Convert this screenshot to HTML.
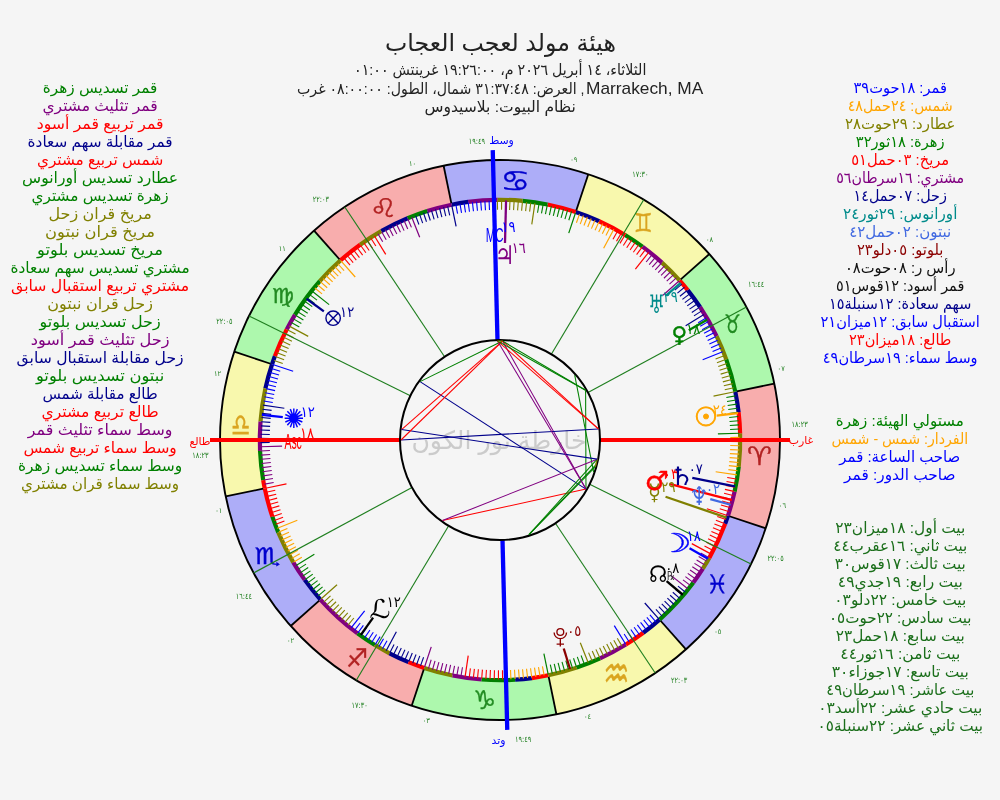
<!DOCTYPE html>
<html lang="ar">
<head>
<meta charset="utf-8">
<title>هيئة مولد</title>
<style>
html,body{margin:0;padding:0;background:#f5f5f5;}
body{width:1000px;height:800px;overflow:hidden;font-family:"Liberation Sans","DejaVu Sans",sans-serif;}
svg{display:block;will-change:transform}
</style>
</head>
<body>
<svg width="1000" height="800" viewBox="0 0 1000 800">
<rect width="1000" height="800" fill="#f5f5f5"/>
<g id="zodiac">
<path d="M765.71 528.3A280 280 0 0 0 774.26 383.62L735.08 391.67A240 240 0 0 1 727.75 515.69Z" fill="#f8adad"/>
<path d="M774.26 383.62A280 280 0 0 0 709.33 254.04L679.43 280.61A240 240 0 0 1 735.08 391.67Z" fill="#adf8ad"/>
<path d="M709.33 254.04A280 280 0 0 0 588.3 174.29L575.69 212.25A240 240 0 0 1 679.43 280.61Z" fill="#f8f8ad"/>
<path d="M588.3 174.29A280 280 0 0 0 443.62 165.74L451.67 204.92A240 240 0 0 1 575.69 212.25Z" fill="#adadf8"/>
<path d="M443.62 165.74A280 280 0 0 0 314.04 230.67L340.61 260.57A240 240 0 0 1 451.67 204.92Z" fill="#f8adad"/>
<path d="M314.04 230.67A280 280 0 0 0 234.29 351.7L272.25 364.31A240 240 0 0 1 340.61 260.57Z" fill="#adf8ad"/>
<path d="M234.29 351.7A280 280 0 0 0 225.74 496.38L264.92 488.33A240 240 0 0 1 272.25 364.31Z" fill="#f8f8ad"/>
<path d="M225.74 496.38A280 280 0 0 0 290.67 625.96L320.57 599.39A240 240 0 0 1 264.92 488.33Z" fill="#adadf8"/>
<path d="M290.67 625.96A280 280 0 0 0 411.7 705.71L424.31 667.75A240 240 0 0 1 320.57 599.39Z" fill="#f8adad"/>
<path d="M411.7 705.71A280 280 0 0 0 556.38 714.26L548.33 675.08A240 240 0 0 1 424.31 667.75Z" fill="#adf8ad"/>
<path d="M556.38 714.26A280 280 0 0 0 685.96 649.33L659.39 619.43A240 240 0 0 1 548.33 675.08Z" fill="#f8f8ad"/>
<path d="M685.96 649.33A280 280 0 0 0 765.71 528.3L727.75 515.69A240 240 0 0 1 659.39 619.43Z" fill="#adadf8"/>
</g>
<g id="terms">
<path d="M727.94 515.75A240.2 240.2 0 0 0 734.61 491.51" stroke="#800080" stroke-width="4.2" fill="none"/>
<path d="M734.61 491.51A240.2 240.2 0 0 0 738.71 466.71" stroke="#008000" stroke-width="4.2" fill="none"/>
<path d="M738.71 466.71A240.2 240.2 0 0 0 740.1 433.22" stroke="#808000" stroke-width="4.2" fill="none"/>
<path d="M740.1 433.22A240.2 240.2 0 0 0 738.6 412.32" stroke="#ff0000" stroke-width="4.2" fill="none"/>
<path d="M738.6 412.32A240.2 240.2 0 0 0 735.28 391.63" stroke="#00008b" stroke-width="4.2" fill="none"/>
<path d="M735.28 391.63A240.2 240.2 0 0 0 726.26 359.36" stroke="#008000" stroke-width="4.2" fill="none"/>
<path d="M726.26 359.36A240.2 240.2 0 0 0 716.59 336.15" stroke="#808000" stroke-width="4.2" fill="none"/>
<path d="M716.59 336.15A240.2 240.2 0 0 0 700.03 307.02" stroke="#800080" stroke-width="4.2" fill="none"/>
<path d="M700.03 307.02A240.2 240.2 0 0 0 687.68 290.09" stroke="#00008b" stroke-width="4.2" fill="none"/>
<path d="M687.68 290.09A240.2 240.2 0 0 0 679.57 280.47" stroke="#ff0000" stroke-width="4.2" fill="none"/>
<path d="M679.57 280.47A240.2 240.2 0 0 0 661.92 262.58" stroke="#808000" stroke-width="4.2" fill="none"/>
<path d="M661.92 262.58A240.2 240.2 0 0 0 642.48 246.62" stroke="#800080" stroke-width="4.2" fill="none"/>
<path d="M642.48 246.62A240.2 240.2 0 0 0 625.09 234.94" stroke="#008000" stroke-width="4.2" fill="none"/>
<path d="M625.09 234.94A240.2 240.2 0 0 0 599.16 221.22" stroke="#ff0000" stroke-width="4.2" fill="none"/>
<path d="M599.16 221.22A240.2 240.2 0 0 0 575.75 212.06" stroke="#00008b" stroke-width="4.2" fill="none"/>
<path d="M575.75 212.06A240.2 240.2 0 0 0 547.41 204.53" stroke="#ff0000" stroke-width="4.2" fill="none"/>
<path d="M547.41 204.53A240.2 240.2 0 0 0 522.54 200.86" stroke="#008000" stroke-width="4.2" fill="none"/>
<path d="M522.54 200.86A240.2 240.2 0 0 0 497.41 199.81" stroke="#808000" stroke-width="4.2" fill="none"/>
<path d="M497.41 199.81A240.2 240.2 0 0 0 468.16 201.92" stroke="#800080" stroke-width="4.2" fill="none"/>
<path d="M468.16 201.92A240.2 240.2 0 0 0 451.63 204.72" stroke="#00008b" stroke-width="4.2" fill="none"/>
<path d="M451.63 204.72A240.2 240.2 0 0 0 427.3 211.06" stroke="#800080" stroke-width="4.2" fill="none"/>
<path d="M427.3 211.06A240.2 240.2 0 0 0 407.63 218.27" stroke="#008000" stroke-width="4.2" fill="none"/>
<path d="M407.63 218.27A240.2 240.2 0 0 0 381.29 231.18" stroke="#00008b" stroke-width="4.2" fill="none"/>
<path d="M381.29 231.18A240.2 240.2 0 0 0 360.12 244.73" stroke="#808000" stroke-width="4.2" fill="none"/>
<path d="M360.12 244.73A240.2 240.2 0 0 0 340.47 260.43" stroke="#ff0000" stroke-width="4.2" fill="none"/>
<path d="M340.47 260.43A240.2 240.2 0 0 0 319.78 281.21" stroke="#808000" stroke-width="4.2" fill="none"/>
<path d="M319.78 281.21A240.2 240.2 0 0 0 294.94 314.91" stroke="#008000" stroke-width="4.2" fill="none"/>
<path d="M294.94 314.91A240.2 240.2 0 0 0 286.71 329.52" stroke="#800080" stroke-width="4.2" fill="none"/>
<path d="M286.71 329.52A240.2 240.2 0 0 0 274.84 356.34" stroke="#ff0000" stroke-width="4.2" fill="none"/>
<path d="M274.84 356.34A240.2 240.2 0 0 0 272.06 364.25" stroke="#00008b" stroke-width="4.2" fill="none"/>
<path d="M272.06 364.25A240.2 240.2 0 0 0 265.39 388.49" stroke="#00008b" stroke-width="4.2" fill="none"/>
<path d="M265.39 388.49A240.2 240.2 0 0 0 260.5 421.64" stroke="#808000" stroke-width="4.2" fill="none"/>
<path d="M260.5 421.64A240.2 240.2 0 0 0 260.05 450.97" stroke="#800080" stroke-width="4.2" fill="none"/>
<path d="M260.05 450.97A240.2 240.2 0 0 0 263.18 480.13" stroke="#008000" stroke-width="4.2" fill="none"/>
<path d="M263.18 480.13A240.2 240.2 0 0 0 264.72 488.37" stroke="#ff0000" stroke-width="4.2" fill="none"/>
<path d="M264.72 488.37A240.2 240.2 0 0 0 272.37 516.68" stroke="#ff0000" stroke-width="4.2" fill="none"/>
<path d="M272.37 516.68A240.2 240.2 0 0 0 278.27 532.37" stroke="#008000" stroke-width="4.2" fill="none"/>
<path d="M278.27 532.37A240.2 240.2 0 0 0 293.29 562.33" stroke="#808000" stroke-width="4.2" fill="none"/>
<path d="M293.29 562.33A240.2 240.2 0 0 0 304.73 579.88" stroke="#800080" stroke-width="4.2" fill="none"/>
<path d="M304.73 579.88A240.2 240.2 0 0 0 320.43 599.53" stroke="#00008b" stroke-width="4.2" fill="none"/>
<path d="M320.43 599.53A240.2 240.2 0 0 0 357.52 633.38" stroke="#800080" stroke-width="4.2" fill="none"/>
<path d="M357.52 633.38A240.2 240.2 0 0 0 374.91 645.06" stroke="#008000" stroke-width="4.2" fill="none"/>
<path d="M374.91 645.06A240.2 240.2 0 0 0 389.52 653.29" stroke="#808000" stroke-width="4.2" fill="none"/>
<path d="M389.52 653.29A240.2 240.2 0 0 0 408.53 662.1" stroke="#00008b" stroke-width="4.2" fill="none"/>
<path d="M408.53 662.1A240.2 240.2 0 0 0 424.25 667.94" stroke="#ff0000" stroke-width="4.2" fill="none"/>
<path d="M424.25 667.94A240.2 240.2 0 0 0 452.59 675.47" stroke="#808000" stroke-width="4.2" fill="none"/>
<path d="M452.59 675.47A240.2 240.2 0 0 0 481.64 679.5" stroke="#800080" stroke-width="4.2" fill="none"/>
<path d="M481.64 679.5A240.2 240.2 0 0 0 515.15 679.72" stroke="#008000" stroke-width="4.2" fill="none"/>
<path d="M515.15 679.72A240.2 240.2 0 0 0 531.84 678.08" stroke="#00008b" stroke-width="4.2" fill="none"/>
<path d="M531.84 678.08A240.2 240.2 0 0 0 548.37 675.28" stroke="#ff0000" stroke-width="4.2" fill="none"/>
<path d="M548.37 675.28A240.2 240.2 0 0 0 576.68 667.63" stroke="#808000" stroke-width="4.2" fill="none"/>
<path d="M576.68 667.63A240.2 240.2 0 0 0 600.05 658.37" stroke="#008000" stroke-width="4.2" fill="none"/>
<path d="M600.05 658.37A240.2 240.2 0 0 0 625.92 644.55" stroke="#800080" stroke-width="4.2" fill="none"/>
<path d="M625.92 644.55A240.2 240.2 0 0 0 643.27 632.8" stroke="#ff0000" stroke-width="4.2" fill="none"/>
<path d="M643.27 632.8A240.2 240.2 0 0 0 659.53 619.57" stroke="#00008b" stroke-width="4.2" fill="none"/>
<path d="M659.53 619.57A240.2 240.2 0 0 0 693.38 582.48" stroke="#008000" stroke-width="4.2" fill="none"/>
<path d="M693.38 582.48A240.2 240.2 0 0 0 702.84 568.65" stroke="#800080" stroke-width="4.2" fill="none"/>
<path d="M702.84 568.65A240.2 240.2 0 0 0 709.3 557.85" stroke="#808000" stroke-width="4.2" fill="none"/>
<path d="M709.3 557.85A240.2 240.2 0 0 0 725.16 523.66" stroke="#ff0000" stroke-width="4.2" fill="none"/>
<path d="M725.16 523.66A240.2 240.2 0 0 0 727.94 515.75" stroke="#00008b" stroke-width="4.2" fill="none"/>
</g>
<g id="ticks" stroke-width="1.1">
<line x1="727.28" y1="515.53" x2="706.87" y2="508.75" stroke="#ff0000" stroke-width="1.2"/>
<line x1="728.56" y1="511.55" x2="719.78" y2="508.81" stroke="#ff0000" stroke-width="1.1"/>
<line x1="729.78" y1="507.55" x2="720.95" y2="504.96" stroke="#ff0000" stroke-width="1.1"/>
<line x1="730.92" y1="503.53" x2="722.05" y2="501.09" stroke="#ff0000" stroke-width="1.1"/>
<line x1="731.99" y1="499.49" x2="723.08" y2="497.21" stroke="#ff0000" stroke-width="1.1"/>
<line x1="733" y1="495.44" x2="724.05" y2="493.31" stroke="#ff0000" stroke-width="1.1"/>
<line x1="733.93" y1="491.36" x2="724.94" y2="489.39" stroke="#ff0000" stroke-width="1.1"/>
<line x1="734.79" y1="487.27" x2="725.77" y2="485.45" stroke="#ff0000" stroke-width="1.1"/>
<line x1="735.58" y1="483.17" x2="726.53" y2="481.51" stroke="#ff0000" stroke-width="1.1"/>
<line x1="736.3" y1="479.05" x2="727.22" y2="477.55" stroke="#ff0000" stroke-width="1.1"/>
<line x1="736.94" y1="474.92" x2="715.67" y2="471.78" stroke="#ffa500" stroke-width="1.2"/>
<line x1="737.51" y1="470.78" x2="728.39" y2="469.6" stroke="#ffa500" stroke-width="1.1"/>
<line x1="738.02" y1="466.63" x2="728.87" y2="465.6" stroke="#ffa500" stroke-width="1.1"/>
<line x1="738.44" y1="462.47" x2="729.28" y2="461.61" stroke="#ffa500" stroke-width="1.1"/>
<line x1="738.8" y1="458.3" x2="729.63" y2="457.6" stroke="#ffa500" stroke-width="1.1"/>
<line x1="739.08" y1="454.13" x2="729.9" y2="453.59" stroke="#ffa500" stroke-width="1.1"/>
<line x1="739.29" y1="449.96" x2="730.1" y2="449.58" stroke="#ffa500" stroke-width="1.1"/>
<line x1="739.43" y1="445.78" x2="730.23" y2="445.56" stroke="#ffa500" stroke-width="1.1"/>
<line x1="739.49" y1="441.6" x2="730.29" y2="441.54" stroke="#ffa500" stroke-width="1.1"/>
<line x1="739.49" y1="437.42" x2="730.29" y2="437.52" stroke="#ffa500" stroke-width="1.1"/>
<line x1="739.4" y1="433.24" x2="717.91" y2="433.85" stroke="#008000" stroke-width="1.2"/>
<line x1="739.25" y1="429.07" x2="730.06" y2="429.49" stroke="#008000" stroke-width="1.1"/>
<line x1="739.02" y1="424.89" x2="729.84" y2="425.47" stroke="#008000" stroke-width="1.1"/>
<line x1="738.72" y1="420.72" x2="729.55" y2="421.46" stroke="#008000" stroke-width="1.1"/>
<line x1="738.35" y1="416.56" x2="729.19" y2="417.46" stroke="#008000" stroke-width="1.1"/>
<line x1="737.9" y1="412.4" x2="728.77" y2="413.46" stroke="#008000" stroke-width="1.1"/>
<line x1="737.39" y1="408.26" x2="728.27" y2="409.47" stroke="#008000" stroke-width="1.1"/>
<line x1="736.8" y1="404.12" x2="727.7" y2="405.5" stroke="#008000" stroke-width="1.1"/>
<line x1="736.13" y1="399.99" x2="727.06" y2="401.53" stroke="#008000" stroke-width="1.1"/>
<line x1="735.4" y1="395.88" x2="726.36" y2="397.57" stroke="#008000" stroke-width="1.1"/>
<line x1="734.59" y1="391.77" x2="713.53" y2="396.1" stroke="#808000" stroke-width="1.2"/>
<line x1="733.72" y1="387.69" x2="724.74" y2="389.7" stroke="#808000" stroke-width="1.1"/>
<line x1="732.77" y1="383.62" x2="723.83" y2="385.78" stroke="#808000" stroke-width="1.1"/>
<line x1="731.75" y1="379.56" x2="722.85" y2="381.88" stroke="#808000" stroke-width="1.1"/>
<line x1="730.66" y1="375.53" x2="721.8" y2="378" stroke="#808000" stroke-width="1.1"/>
<line x1="729.5" y1="371.51" x2="720.68" y2="374.14" stroke="#808000" stroke-width="1.1"/>
<line x1="728.27" y1="367.52" x2="719.5" y2="370.3" stroke="#808000" stroke-width="1.1"/>
<line x1="726.97" y1="363.54" x2="718.25" y2="366.48" stroke="#808000" stroke-width="1.1"/>
<line x1="725.6" y1="359.59" x2="716.93" y2="362.68" stroke="#808000" stroke-width="1.1"/>
<line x1="724.16" y1="355.67" x2="715.55" y2="358.91" stroke="#808000" stroke-width="1.1"/>
<line x1="722.66" y1="351.77" x2="702.67" y2="359.69" stroke="#0000ff" stroke-width="1.2"/>
<line x1="721.08" y1="347.9" x2="712.59" y2="351.43" stroke="#0000ff" stroke-width="1.1"/>
<line x1="719.44" y1="344.05" x2="711.01" y2="347.74" stroke="#0000ff" stroke-width="1.1"/>
<line x1="717.73" y1="340.24" x2="709.37" y2="344.07" stroke="#0000ff" stroke-width="1.1"/>
<line x1="715.96" y1="336.45" x2="707.66" y2="340.43" stroke="#0000ff" stroke-width="1.1"/>
<line x1="714.12" y1="332.7" x2="705.89" y2="336.82" stroke="#0000ff" stroke-width="1.1"/>
<line x1="712.21" y1="328.98" x2="704.06" y2="333.24" stroke="#0000ff" stroke-width="1.1"/>
<line x1="710.24" y1="325.29" x2="702.17" y2="329.7" stroke="#0000ff" stroke-width="1.1"/>
<line x1="708.21" y1="321.64" x2="700.21" y2="326.19" stroke="#0000ff" stroke-width="1.1"/>
<line x1="706.11" y1="318.02" x2="698.19" y2="322.71" stroke="#0000ff" stroke-width="1.1"/>
<line x1="703.95" y1="314.45" x2="685.64" y2="325.72" stroke="#00008b" stroke-width="1.2"/>
<line x1="701.73" y1="310.91" x2="693.98" y2="315.86" stroke="#00008b" stroke-width="1.1"/>
<line x1="699.45" y1="307.4" x2="691.78" y2="312.5" stroke="#00008b" stroke-width="1.1"/>
<line x1="697.1" y1="303.94" x2="689.53" y2="309.17" stroke="#00008b" stroke-width="1.1"/>
<line x1="694.7" y1="300.52" x2="687.22" y2="305.88" stroke="#00008b" stroke-width="1.1"/>
<line x1="692.23" y1="297.15" x2="684.85" y2="302.64" stroke="#00008b" stroke-width="1.1"/>
<line x1="689.71" y1="293.82" x2="682.42" y2="299.43" stroke="#00008b" stroke-width="1.1"/>
<line x1="687.13" y1="290.53" x2="679.94" y2="296.27" stroke="#00008b" stroke-width="1.1"/>
<line x1="684.49" y1="287.28" x2="677.41" y2="293.15" stroke="#00008b" stroke-width="1.1"/>
<line x1="681.8" y1="284.09" x2="674.82" y2="290.08" stroke="#00008b" stroke-width="1.1"/>
<line x1="679.05" y1="280.94" x2="662.98" y2="295.22" stroke="#800080" stroke-width="1.2"/>
<line x1="676.25" y1="277.84" x2="669.48" y2="284.07" stroke="#800080" stroke-width="1.1"/>
<line x1="673.39" y1="274.79" x2="666.73" y2="281.13" stroke="#800080" stroke-width="1.1"/>
<line x1="670.48" y1="271.78" x2="663.93" y2="278.25" stroke="#800080" stroke-width="1.1"/>
<line x1="667.52" y1="268.84" x2="661.08" y2="275.41" stroke="#800080" stroke-width="1.1"/>
<line x1="664.51" y1="265.94" x2="658.19" y2="272.62" stroke="#800080" stroke-width="1.1"/>
<line x1="661.44" y1="263.09" x2="655.24" y2="269.89" stroke="#800080" stroke-width="1.1"/>
<line x1="658.33" y1="260.3" x2="652.25" y2="267.21" stroke="#800080" stroke-width="1.1"/>
<line x1="655.17" y1="257.57" x2="649.21" y2="264.57" stroke="#800080" stroke-width="1.1"/>
<line x1="651.96" y1="254.89" x2="646.13" y2="262" stroke="#800080" stroke-width="1.1"/>
<line x1="648.71" y1="252.26" x2="635.36" y2="269.12" stroke="#ff0000" stroke-width="1.2"/>
<line x1="645.41" y1="249.7" x2="639.83" y2="257.01" stroke="#ff0000" stroke-width="1.1"/>
<line x1="642.07" y1="247.19" x2="636.61" y2="254.59" stroke="#ff0000" stroke-width="1.1"/>
<line x1="638.68" y1="244.74" x2="633.35" y2="252.24" stroke="#ff0000" stroke-width="1.1"/>
<line x1="635.25" y1="242.35" x2="630.06" y2="249.94" stroke="#ff0000" stroke-width="1.1"/>
<line x1="631.78" y1="240.02" x2="626.72" y2="247.7" stroke="#ff0000" stroke-width="1.1"/>
<line x1="628.27" y1="237.75" x2="623.34" y2="245.52" stroke="#ff0000" stroke-width="1.1"/>
<line x1="624.72" y1="235.54" x2="619.93" y2="243.39" stroke="#ff0000" stroke-width="1.1"/>
<line x1="621.13" y1="233.39" x2="616.48" y2="241.33" stroke="#ff0000" stroke-width="1.1"/>
<line x1="617.51" y1="231.31" x2="613" y2="239.33" stroke="#ff0000" stroke-width="1.1"/>
<line x1="613.85" y1="229.29" x2="603.63" y2="248.21" stroke="#ffa500" stroke-width="1.2"/>
<line x1="610.16" y1="227.34" x2="605.92" y2="235.51" stroke="#ffa500" stroke-width="1.1"/>
<line x1="606.43" y1="225.45" x2="602.34" y2="233.69" stroke="#ffa500" stroke-width="1.1"/>
<line x1="602.67" y1="223.62" x2="598.72" y2="231.93" stroke="#ffa500" stroke-width="1.1"/>
<line x1="598.88" y1="221.86" x2="595.08" y2="230.24" stroke="#ffa500" stroke-width="1.1"/>
<line x1="595.05" y1="220.17" x2="591.4" y2="228.61" stroke="#ffa500" stroke-width="1.1"/>
<line x1="591.2" y1="218.54" x2="587.7" y2="227.05" stroke="#ffa500" stroke-width="1.1"/>
<line x1="587.32" y1="216.99" x2="583.97" y2="225.55" stroke="#ffa500" stroke-width="1.1"/>
<line x1="583.42" y1="215.5" x2="580.21" y2="224.12" stroke="#ffa500" stroke-width="1.1"/>
<line x1="579.49" y1="214.08" x2="576.43" y2="222.75" stroke="#ffa500" stroke-width="1.1"/>
<line x1="575.53" y1="212.72" x2="568.75" y2="233.13" stroke="#008000" stroke-width="1.2"/>
<line x1="571.55" y1="211.44" x2="568.81" y2="220.22" stroke="#008000" stroke-width="1.1"/>
<line x1="567.55" y1="210.22" x2="564.96" y2="219.05" stroke="#008000" stroke-width="1.1"/>
<line x1="563.53" y1="209.08" x2="561.09" y2="217.95" stroke="#008000" stroke-width="1.1"/>
<line x1="559.49" y1="208.01" x2="557.21" y2="216.92" stroke="#008000" stroke-width="1.1"/>
<line x1="555.44" y1="207" x2="553.31" y2="215.95" stroke="#008000" stroke-width="1.1"/>
<line x1="551.36" y1="206.07" x2="549.39" y2="215.06" stroke="#008000" stroke-width="1.1"/>
<line x1="547.27" y1="205.21" x2="545.45" y2="214.23" stroke="#008000" stroke-width="1.1"/>
<line x1="543.17" y1="204.42" x2="541.51" y2="213.47" stroke="#008000" stroke-width="1.1"/>
<line x1="539.05" y1="203.7" x2="537.55" y2="212.78" stroke="#008000" stroke-width="1.1"/>
<line x1="534.92" y1="203.06" x2="531.78" y2="224.33" stroke="#808000" stroke-width="1.2"/>
<line x1="530.78" y1="202.49" x2="529.6" y2="211.61" stroke="#808000" stroke-width="1.1"/>
<line x1="526.63" y1="201.98" x2="525.6" y2="211.13" stroke="#808000" stroke-width="1.1"/>
<line x1="522.47" y1="201.56" x2="521.61" y2="210.72" stroke="#808000" stroke-width="1.1"/>
<line x1="518.3" y1="201.2" x2="517.6" y2="210.37" stroke="#808000" stroke-width="1.1"/>
<line x1="514.13" y1="200.92" x2="513.59" y2="210.1" stroke="#808000" stroke-width="1.1"/>
<line x1="509.96" y1="200.71" x2="509.58" y2="209.9" stroke="#808000" stroke-width="1.1"/>
<line x1="505.78" y1="200.57" x2="505.56" y2="209.77" stroke="#808000" stroke-width="1.1"/>
<line x1="501.6" y1="200.51" x2="501.54" y2="209.71" stroke="#808000" stroke-width="1.1"/>
<line x1="497.42" y1="200.51" x2="497.52" y2="209.71" stroke="#808000" stroke-width="1.1"/>
<line x1="493.24" y1="200.6" x2="493.85" y2="222.09" stroke="#0000ff" stroke-width="1.2"/>
<line x1="489.07" y1="200.75" x2="489.49" y2="209.94" stroke="#0000ff" stroke-width="1.1"/>
<line x1="484.89" y1="200.98" x2="485.47" y2="210.16" stroke="#0000ff" stroke-width="1.1"/>
<line x1="480.72" y1="201.28" x2="481.46" y2="210.45" stroke="#0000ff" stroke-width="1.1"/>
<line x1="476.56" y1="201.65" x2="477.46" y2="210.81" stroke="#0000ff" stroke-width="1.1"/>
<line x1="472.4" y1="202.1" x2="473.46" y2="211.23" stroke="#0000ff" stroke-width="1.1"/>
<line x1="468.26" y1="202.61" x2="469.47" y2="211.73" stroke="#0000ff" stroke-width="1.1"/>
<line x1="464.12" y1="203.2" x2="465.5" y2="212.3" stroke="#0000ff" stroke-width="1.1"/>
<line x1="459.99" y1="203.87" x2="461.53" y2="212.94" stroke="#0000ff" stroke-width="1.1"/>
<line x1="455.88" y1="204.6" x2="457.57" y2="213.64" stroke="#0000ff" stroke-width="1.1"/>
<line x1="451.77" y1="205.41" x2="456.1" y2="226.47" stroke="#00008b" stroke-width="1.2"/>
<line x1="447.69" y1="206.28" x2="449.7" y2="215.26" stroke="#00008b" stroke-width="1.1"/>
<line x1="443.62" y1="207.23" x2="445.78" y2="216.17" stroke="#00008b" stroke-width="1.1"/>
<line x1="439.56" y1="208.25" x2="441.88" y2="217.15" stroke="#00008b" stroke-width="1.1"/>
<line x1="435.53" y1="209.34" x2="438" y2="218.2" stroke="#00008b" stroke-width="1.1"/>
<line x1="431.51" y1="210.5" x2="434.14" y2="219.32" stroke="#00008b" stroke-width="1.1"/>
<line x1="427.52" y1="211.73" x2="430.3" y2="220.5" stroke="#00008b" stroke-width="1.1"/>
<line x1="423.54" y1="213.03" x2="426.48" y2="221.75" stroke="#00008b" stroke-width="1.1"/>
<line x1="419.59" y1="214.4" x2="422.68" y2="223.07" stroke="#00008b" stroke-width="1.1"/>
<line x1="415.67" y1="215.84" x2="418.91" y2="224.45" stroke="#00008b" stroke-width="1.1"/>
<line x1="411.77" y1="217.34" x2="419.69" y2="237.33" stroke="#800080" stroke-width="1.2"/>
<line x1="407.9" y1="218.92" x2="411.43" y2="227.41" stroke="#800080" stroke-width="1.1"/>
<line x1="404.05" y1="220.56" x2="407.74" y2="228.99" stroke="#800080" stroke-width="1.1"/>
<line x1="400.24" y1="222.27" x2="404.07" y2="230.63" stroke="#800080" stroke-width="1.1"/>
<line x1="396.45" y1="224.04" x2="400.43" y2="232.34" stroke="#800080" stroke-width="1.1"/>
<line x1="392.7" y1="225.88" x2="396.82" y2="234.11" stroke="#800080" stroke-width="1.1"/>
<line x1="388.98" y1="227.79" x2="393.24" y2="235.94" stroke="#800080" stroke-width="1.1"/>
<line x1="385.29" y1="229.76" x2="389.7" y2="237.83" stroke="#800080" stroke-width="1.1"/>
<line x1="381.64" y1="231.79" x2="386.19" y2="239.79" stroke="#800080" stroke-width="1.1"/>
<line x1="378.02" y1="233.89" x2="382.71" y2="241.81" stroke="#800080" stroke-width="1.1"/>
<line x1="374.45" y1="236.05" x2="385.72" y2="254.36" stroke="#ff0000" stroke-width="1.2"/>
<line x1="370.91" y1="238.27" x2="375.86" y2="246.02" stroke="#ff0000" stroke-width="1.1"/>
<line x1="367.4" y1="240.55" x2="372.5" y2="248.22" stroke="#ff0000" stroke-width="1.1"/>
<line x1="363.94" y1="242.9" x2="369.17" y2="250.47" stroke="#ff0000" stroke-width="1.1"/>
<line x1="360.52" y1="245.3" x2="365.88" y2="252.78" stroke="#ff0000" stroke-width="1.1"/>
<line x1="357.15" y1="247.77" x2="362.64" y2="255.15" stroke="#ff0000" stroke-width="1.1"/>
<line x1="353.82" y1="250.29" x2="359.43" y2="257.58" stroke="#ff0000" stroke-width="1.1"/>
<line x1="350.53" y1="252.87" x2="356.27" y2="260.06" stroke="#ff0000" stroke-width="1.1"/>
<line x1="347.28" y1="255.51" x2="353.15" y2="262.59" stroke="#ff0000" stroke-width="1.1"/>
<line x1="344.09" y1="258.2" x2="350.08" y2="265.18" stroke="#ff0000" stroke-width="1.1"/>
<line x1="340.94" y1="260.95" x2="355.22" y2="277.02" stroke="#ffa500" stroke-width="1.2"/>
<line x1="337.84" y1="263.75" x2="344.07" y2="270.52" stroke="#ffa500" stroke-width="1.1"/>
<line x1="334.79" y1="266.61" x2="341.13" y2="273.27" stroke="#ffa500" stroke-width="1.1"/>
<line x1="331.78" y1="269.52" x2="338.25" y2="276.07" stroke="#ffa500" stroke-width="1.1"/>
<line x1="328.84" y1="272.48" x2="335.41" y2="278.92" stroke="#ffa500" stroke-width="1.1"/>
<line x1="325.94" y1="275.49" x2="332.62" y2="281.81" stroke="#ffa500" stroke-width="1.1"/>
<line x1="323.09" y1="278.56" x2="329.89" y2="284.76" stroke="#ffa500" stroke-width="1.1"/>
<line x1="320.3" y1="281.67" x2="327.21" y2="287.75" stroke="#ffa500" stroke-width="1.1"/>
<line x1="317.57" y1="284.83" x2="324.57" y2="290.79" stroke="#ffa500" stroke-width="1.1"/>
<line x1="314.89" y1="288.04" x2="322" y2="293.87" stroke="#ffa500" stroke-width="1.1"/>
<line x1="312.26" y1="291.29" x2="329.12" y2="304.64" stroke="#008000" stroke-width="1.2"/>
<line x1="309.7" y1="294.59" x2="317.01" y2="300.17" stroke="#008000" stroke-width="1.1"/>
<line x1="307.19" y1="297.93" x2="314.59" y2="303.39" stroke="#008000" stroke-width="1.1"/>
<line x1="304.74" y1="301.32" x2="312.24" y2="306.65" stroke="#008000" stroke-width="1.1"/>
<line x1="302.35" y1="304.75" x2="309.94" y2="309.94" stroke="#008000" stroke-width="1.1"/>
<line x1="300.02" y1="308.22" x2="307.7" y2="313.28" stroke="#008000" stroke-width="1.1"/>
<line x1="297.75" y1="311.73" x2="305.52" y2="316.66" stroke="#008000" stroke-width="1.1"/>
<line x1="295.54" y1="315.28" x2="303.39" y2="320.07" stroke="#008000" stroke-width="1.1"/>
<line x1="293.39" y1="318.87" x2="301.33" y2="323.52" stroke="#008000" stroke-width="1.1"/>
<line x1="291.31" y1="322.49" x2="299.33" y2="327" stroke="#008000" stroke-width="1.1"/>
<line x1="289.29" y1="326.15" x2="308.21" y2="336.37" stroke="#808000" stroke-width="1.2"/>
<line x1="287.34" y1="329.84" x2="295.51" y2="334.08" stroke="#808000" stroke-width="1.1"/>
<line x1="285.45" y1="333.57" x2="293.69" y2="337.66" stroke="#808000" stroke-width="1.1"/>
<line x1="283.62" y1="337.33" x2="291.93" y2="341.28" stroke="#808000" stroke-width="1.1"/>
<line x1="281.86" y1="341.12" x2="290.24" y2="344.92" stroke="#808000" stroke-width="1.1"/>
<line x1="280.17" y1="344.95" x2="288.61" y2="348.6" stroke="#808000" stroke-width="1.1"/>
<line x1="278.54" y1="348.8" x2="287.05" y2="352.3" stroke="#808000" stroke-width="1.1"/>
<line x1="276.99" y1="352.68" x2="285.55" y2="356.03" stroke="#808000" stroke-width="1.1"/>
<line x1="275.5" y1="356.58" x2="284.12" y2="359.79" stroke="#808000" stroke-width="1.1"/>
<line x1="274.08" y1="360.51" x2="282.75" y2="363.57" stroke="#808000" stroke-width="1.1"/>
<line x1="272.72" y1="364.47" x2="293.13" y2="371.25" stroke="#0000ff" stroke-width="1.2"/>
<line x1="271.44" y1="368.45" x2="280.22" y2="371.19" stroke="#0000ff" stroke-width="1.1"/>
<line x1="270.22" y1="372.45" x2="279.05" y2="375.04" stroke="#0000ff" stroke-width="1.1"/>
<line x1="269.08" y1="376.47" x2="277.95" y2="378.91" stroke="#0000ff" stroke-width="1.1"/>
<line x1="268.01" y1="380.51" x2="276.92" y2="382.79" stroke="#0000ff" stroke-width="1.1"/>
<line x1="267" y1="384.56" x2="275.95" y2="386.69" stroke="#0000ff" stroke-width="1.1"/>
<line x1="266.07" y1="388.64" x2="275.06" y2="390.61" stroke="#0000ff" stroke-width="1.1"/>
<line x1="265.21" y1="392.73" x2="274.23" y2="394.55" stroke="#0000ff" stroke-width="1.1"/>
<line x1="264.42" y1="396.83" x2="273.47" y2="398.49" stroke="#0000ff" stroke-width="1.1"/>
<line x1="263.7" y1="400.95" x2="272.78" y2="402.45" stroke="#0000ff" stroke-width="1.1"/>
<line x1="263.06" y1="405.08" x2="284.33" y2="408.22" stroke="#00008b" stroke-width="1.2"/>
<line x1="262.49" y1="409.22" x2="271.61" y2="410.4" stroke="#00008b" stroke-width="1.1"/>
<line x1="261.98" y1="413.37" x2="271.13" y2="414.4" stroke="#00008b" stroke-width="1.1"/>
<line x1="261.56" y1="417.53" x2="270.72" y2="418.39" stroke="#00008b" stroke-width="1.1"/>
<line x1="261.2" y1="421.7" x2="270.37" y2="422.4" stroke="#00008b" stroke-width="1.1"/>
<line x1="260.92" y1="425.87" x2="270.1" y2="426.41" stroke="#00008b" stroke-width="1.1"/>
<line x1="260.71" y1="430.04" x2="269.9" y2="430.42" stroke="#00008b" stroke-width="1.1"/>
<line x1="260.57" y1="434.22" x2="269.77" y2="434.44" stroke="#00008b" stroke-width="1.1"/>
<line x1="260.51" y1="438.4" x2="269.71" y2="438.46" stroke="#00008b" stroke-width="1.1"/>
<line x1="260.51" y1="442.58" x2="269.71" y2="442.48" stroke="#00008b" stroke-width="1.1"/>
<line x1="260.6" y1="446.76" x2="282.09" y2="446.15" stroke="#800080" stroke-width="1.2"/>
<line x1="260.75" y1="450.93" x2="269.94" y2="450.51" stroke="#800080" stroke-width="1.1"/>
<line x1="260.98" y1="455.11" x2="270.16" y2="454.53" stroke="#800080" stroke-width="1.1"/>
<line x1="261.28" y1="459.28" x2="270.45" y2="458.54" stroke="#800080" stroke-width="1.1"/>
<line x1="261.65" y1="463.44" x2="270.81" y2="462.54" stroke="#800080" stroke-width="1.1"/>
<line x1="262.1" y1="467.6" x2="271.23" y2="466.54" stroke="#800080" stroke-width="1.1"/>
<line x1="262.61" y1="471.74" x2="271.73" y2="470.53" stroke="#800080" stroke-width="1.1"/>
<line x1="263.2" y1="475.88" x2="272.3" y2="474.5" stroke="#800080" stroke-width="1.1"/>
<line x1="263.87" y1="480.01" x2="272.94" y2="478.47" stroke="#800080" stroke-width="1.1"/>
<line x1="264.6" y1="484.12" x2="273.64" y2="482.43" stroke="#800080" stroke-width="1.1"/>
<line x1="265.41" y1="488.23" x2="286.47" y2="483.9" stroke="#ff0000" stroke-width="1.2"/>
<line x1="266.28" y1="492.31" x2="275.26" y2="490.3" stroke="#ff0000" stroke-width="1.1"/>
<line x1="267.23" y1="496.38" x2="276.17" y2="494.22" stroke="#ff0000" stroke-width="1.1"/>
<line x1="268.25" y1="500.44" x2="277.15" y2="498.12" stroke="#ff0000" stroke-width="1.1"/>
<line x1="269.34" y1="504.47" x2="278.2" y2="502" stroke="#ff0000" stroke-width="1.1"/>
<line x1="270.5" y1="508.49" x2="279.32" y2="505.86" stroke="#ff0000" stroke-width="1.1"/>
<line x1="271.73" y1="512.48" x2="280.5" y2="509.7" stroke="#ff0000" stroke-width="1.1"/>
<line x1="273.03" y1="516.46" x2="281.75" y2="513.52" stroke="#ff0000" stroke-width="1.1"/>
<line x1="274.4" y1="520.41" x2="283.07" y2="517.32" stroke="#ff0000" stroke-width="1.1"/>
<line x1="275.84" y1="524.33" x2="284.45" y2="521.09" stroke="#ff0000" stroke-width="1.1"/>
<line x1="277.34" y1="528.23" x2="297.33" y2="520.31" stroke="#ffa500" stroke-width="1.2"/>
<line x1="278.92" y1="532.1" x2="287.41" y2="528.57" stroke="#ffa500" stroke-width="1.1"/>
<line x1="280.56" y1="535.95" x2="288.99" y2="532.26" stroke="#ffa500" stroke-width="1.1"/>
<line x1="282.27" y1="539.76" x2="290.63" y2="535.93" stroke="#ffa500" stroke-width="1.1"/>
<line x1="284.04" y1="543.55" x2="292.34" y2="539.57" stroke="#ffa500" stroke-width="1.1"/>
<line x1="285.88" y1="547.3" x2="294.11" y2="543.18" stroke="#ffa500" stroke-width="1.1"/>
<line x1="287.79" y1="551.02" x2="295.94" y2="546.76" stroke="#ffa500" stroke-width="1.1"/>
<line x1="289.76" y1="554.71" x2="297.83" y2="550.3" stroke="#ffa500" stroke-width="1.1"/>
<line x1="291.79" y1="558.36" x2="299.79" y2="553.81" stroke="#ffa500" stroke-width="1.1"/>
<line x1="293.89" y1="561.98" x2="301.81" y2="557.29" stroke="#ffa500" stroke-width="1.1"/>
<line x1="296.05" y1="565.55" x2="314.36" y2="554.28" stroke="#008000" stroke-width="1.2"/>
<line x1="298.27" y1="569.09" x2="306.02" y2="564.14" stroke="#008000" stroke-width="1.1"/>
<line x1="300.55" y1="572.6" x2="308.22" y2="567.5" stroke="#008000" stroke-width="1.1"/>
<line x1="302.9" y1="576.06" x2="310.47" y2="570.83" stroke="#008000" stroke-width="1.1"/>
<line x1="305.3" y1="579.48" x2="312.78" y2="574.12" stroke="#008000" stroke-width="1.1"/>
<line x1="307.77" y1="582.85" x2="315.15" y2="577.36" stroke="#008000" stroke-width="1.1"/>
<line x1="310.29" y1="586.18" x2="317.58" y2="580.57" stroke="#008000" stroke-width="1.1"/>
<line x1="312.87" y1="589.47" x2="320.06" y2="583.73" stroke="#008000" stroke-width="1.1"/>
<line x1="315.51" y1="592.72" x2="322.59" y2="586.85" stroke="#008000" stroke-width="1.1"/>
<line x1="318.2" y1="595.91" x2="325.18" y2="589.92" stroke="#008000" stroke-width="1.1"/>
<line x1="320.95" y1="599.06" x2="337.02" y2="584.78" stroke="#808000" stroke-width="1.2"/>
<line x1="323.75" y1="602.16" x2="330.52" y2="595.93" stroke="#808000" stroke-width="1.1"/>
<line x1="326.61" y1="605.21" x2="333.27" y2="598.87" stroke="#808000" stroke-width="1.1"/>
<line x1="329.52" y1="608.22" x2="336.07" y2="601.75" stroke="#808000" stroke-width="1.1"/>
<line x1="332.48" y1="611.16" x2="338.92" y2="604.59" stroke="#808000" stroke-width="1.1"/>
<line x1="335.49" y1="614.06" x2="341.81" y2="607.38" stroke="#808000" stroke-width="1.1"/>
<line x1="338.56" y1="616.91" x2="344.76" y2="610.11" stroke="#808000" stroke-width="1.1"/>
<line x1="341.67" y1="619.7" x2="347.75" y2="612.79" stroke="#808000" stroke-width="1.1"/>
<line x1="344.83" y1="622.43" x2="350.79" y2="615.43" stroke="#808000" stroke-width="1.1"/>
<line x1="348.04" y1="625.11" x2="353.87" y2="618" stroke="#808000" stroke-width="1.1"/>
<line x1="351.29" y1="627.74" x2="364.64" y2="610.88" stroke="#0000ff" stroke-width="1.2"/>
<line x1="354.59" y1="630.3" x2="360.17" y2="622.99" stroke="#0000ff" stroke-width="1.1"/>
<line x1="357.93" y1="632.81" x2="363.39" y2="625.41" stroke="#0000ff" stroke-width="1.1"/>
<line x1="361.32" y1="635.26" x2="366.65" y2="627.76" stroke="#0000ff" stroke-width="1.1"/>
<line x1="364.75" y1="637.65" x2="369.94" y2="630.06" stroke="#0000ff" stroke-width="1.1"/>
<line x1="368.22" y1="639.98" x2="373.28" y2="632.3" stroke="#0000ff" stroke-width="1.1"/>
<line x1="371.73" y1="642.25" x2="376.66" y2="634.48" stroke="#0000ff" stroke-width="1.1"/>
<line x1="375.28" y1="644.46" x2="380.07" y2="636.61" stroke="#0000ff" stroke-width="1.1"/>
<line x1="378.87" y1="646.61" x2="383.52" y2="638.67" stroke="#0000ff" stroke-width="1.1"/>
<line x1="382.49" y1="648.69" x2="387" y2="640.67" stroke="#0000ff" stroke-width="1.1"/>
<line x1="386.15" y1="650.71" x2="396.37" y2="631.79" stroke="#00008b" stroke-width="1.2"/>
<line x1="389.84" y1="652.66" x2="394.08" y2="644.49" stroke="#00008b" stroke-width="1.1"/>
<line x1="393.57" y1="654.55" x2="397.66" y2="646.31" stroke="#00008b" stroke-width="1.1"/>
<line x1="397.33" y1="656.38" x2="401.28" y2="648.07" stroke="#00008b" stroke-width="1.1"/>
<line x1="401.12" y1="658.14" x2="404.92" y2="649.76" stroke="#00008b" stroke-width="1.1"/>
<line x1="404.95" y1="659.83" x2="408.6" y2="651.39" stroke="#00008b" stroke-width="1.1"/>
<line x1="408.8" y1="661.46" x2="412.3" y2="652.95" stroke="#00008b" stroke-width="1.1"/>
<line x1="412.68" y1="663.01" x2="416.03" y2="654.45" stroke="#00008b" stroke-width="1.1"/>
<line x1="416.58" y1="664.5" x2="419.79" y2="655.88" stroke="#00008b" stroke-width="1.1"/>
<line x1="420.51" y1="665.92" x2="423.57" y2="657.25" stroke="#00008b" stroke-width="1.1"/>
<line x1="424.47" y1="667.28" x2="431.25" y2="646.87" stroke="#800080" stroke-width="1.2"/>
<line x1="428.45" y1="668.56" x2="431.19" y2="659.78" stroke="#800080" stroke-width="1.1"/>
<line x1="432.45" y1="669.78" x2="435.04" y2="660.95" stroke="#800080" stroke-width="1.1"/>
<line x1="436.47" y1="670.92" x2="438.91" y2="662.05" stroke="#800080" stroke-width="1.1"/>
<line x1="440.51" y1="671.99" x2="442.79" y2="663.08" stroke="#800080" stroke-width="1.1"/>
<line x1="444.56" y1="673" x2="446.69" y2="664.05" stroke="#800080" stroke-width="1.1"/>
<line x1="448.64" y1="673.93" x2="450.61" y2="664.94" stroke="#800080" stroke-width="1.1"/>
<line x1="452.73" y1="674.79" x2="454.55" y2="665.77" stroke="#800080" stroke-width="1.1"/>
<line x1="456.83" y1="675.58" x2="458.49" y2="666.53" stroke="#800080" stroke-width="1.1"/>
<line x1="460.95" y1="676.3" x2="462.45" y2="667.22" stroke="#800080" stroke-width="1.1"/>
<line x1="465.08" y1="676.94" x2="468.22" y2="655.67" stroke="#ff0000" stroke-width="1.2"/>
<line x1="469.22" y1="677.51" x2="470.4" y2="668.39" stroke="#ff0000" stroke-width="1.1"/>
<line x1="473.37" y1="678.02" x2="474.4" y2="668.87" stroke="#ff0000" stroke-width="1.1"/>
<line x1="477.53" y1="678.44" x2="478.39" y2="669.28" stroke="#ff0000" stroke-width="1.1"/>
<line x1="481.7" y1="678.8" x2="482.4" y2="669.63" stroke="#ff0000" stroke-width="1.1"/>
<line x1="485.87" y1="679.08" x2="486.41" y2="669.9" stroke="#ff0000" stroke-width="1.1"/>
<line x1="490.04" y1="679.29" x2="490.42" y2="670.1" stroke="#ff0000" stroke-width="1.1"/>
<line x1="494.22" y1="679.43" x2="494.44" y2="670.23" stroke="#ff0000" stroke-width="1.1"/>
<line x1="498.4" y1="679.49" x2="498.46" y2="670.29" stroke="#ff0000" stroke-width="1.1"/>
<line x1="502.58" y1="679.49" x2="502.48" y2="670.29" stroke="#ff0000" stroke-width="1.1"/>
<line x1="506.76" y1="679.4" x2="506.15" y2="657.91" stroke="#ffa500" stroke-width="1.2"/>
<line x1="510.93" y1="679.25" x2="510.51" y2="670.06" stroke="#ffa500" stroke-width="1.1"/>
<line x1="515.11" y1="679.02" x2="514.53" y2="669.84" stroke="#ffa500" stroke-width="1.1"/>
<line x1="519.28" y1="678.72" x2="518.54" y2="669.55" stroke="#ffa500" stroke-width="1.1"/>
<line x1="523.44" y1="678.35" x2="522.54" y2="669.19" stroke="#ffa500" stroke-width="1.1"/>
<line x1="527.6" y1="677.9" x2="526.54" y2="668.77" stroke="#ffa500" stroke-width="1.1"/>
<line x1="531.74" y1="677.39" x2="530.53" y2="668.27" stroke="#ffa500" stroke-width="1.1"/>
<line x1="535.88" y1="676.8" x2="534.5" y2="667.7" stroke="#ffa500" stroke-width="1.1"/>
<line x1="540.01" y1="676.13" x2="538.47" y2="667.06" stroke="#ffa500" stroke-width="1.1"/>
<line x1="544.12" y1="675.4" x2="542.43" y2="666.36" stroke="#ffa500" stroke-width="1.1"/>
<line x1="548.23" y1="674.59" x2="543.9" y2="653.53" stroke="#008000" stroke-width="1.2"/>
<line x1="552.31" y1="673.72" x2="550.3" y2="664.74" stroke="#008000" stroke-width="1.1"/>
<line x1="556.38" y1="672.77" x2="554.22" y2="663.83" stroke="#008000" stroke-width="1.1"/>
<line x1="560.44" y1="671.75" x2="558.12" y2="662.85" stroke="#008000" stroke-width="1.1"/>
<line x1="564.47" y1="670.66" x2="562" y2="661.8" stroke="#008000" stroke-width="1.1"/>
<line x1="568.49" y1="669.5" x2="565.86" y2="660.68" stroke="#008000" stroke-width="1.1"/>
<line x1="572.48" y1="668.27" x2="569.7" y2="659.5" stroke="#008000" stroke-width="1.1"/>
<line x1="576.46" y1="666.97" x2="573.52" y2="658.25" stroke="#008000" stroke-width="1.1"/>
<line x1="580.41" y1="665.6" x2="577.32" y2="656.93" stroke="#008000" stroke-width="1.1"/>
<line x1="584.33" y1="664.16" x2="581.09" y2="655.55" stroke="#008000" stroke-width="1.1"/>
<line x1="588.23" y1="662.66" x2="580.31" y2="642.67" stroke="#808000" stroke-width="1.2"/>
<line x1="592.1" y1="661.08" x2="588.57" y2="652.59" stroke="#808000" stroke-width="1.1"/>
<line x1="595.95" y1="659.44" x2="592.26" y2="651.01" stroke="#808000" stroke-width="1.1"/>
<line x1="599.76" y1="657.73" x2="595.93" y2="649.37" stroke="#808000" stroke-width="1.1"/>
<line x1="603.55" y1="655.96" x2="599.57" y2="647.66" stroke="#808000" stroke-width="1.1"/>
<line x1="607.3" y1="654.12" x2="603.18" y2="645.89" stroke="#808000" stroke-width="1.1"/>
<line x1="611.02" y1="652.21" x2="606.76" y2="644.06" stroke="#808000" stroke-width="1.1"/>
<line x1="614.71" y1="650.24" x2="610.3" y2="642.17" stroke="#808000" stroke-width="1.1"/>
<line x1="618.36" y1="648.21" x2="613.81" y2="640.21" stroke="#808000" stroke-width="1.1"/>
<line x1="621.98" y1="646.11" x2="617.29" y2="638.19" stroke="#808000" stroke-width="1.1"/>
<line x1="625.55" y1="643.95" x2="614.28" y2="625.64" stroke="#0000ff" stroke-width="1.2"/>
<line x1="629.09" y1="641.73" x2="624.14" y2="633.98" stroke="#0000ff" stroke-width="1.1"/>
<line x1="632.6" y1="639.45" x2="627.5" y2="631.78" stroke="#0000ff" stroke-width="1.1"/>
<line x1="636.06" y1="637.1" x2="630.83" y2="629.53" stroke="#0000ff" stroke-width="1.1"/>
<line x1="639.48" y1="634.7" x2="634.12" y2="627.22" stroke="#0000ff" stroke-width="1.1"/>
<line x1="642.85" y1="632.23" x2="637.36" y2="624.85" stroke="#0000ff" stroke-width="1.1"/>
<line x1="646.18" y1="629.71" x2="640.57" y2="622.42" stroke="#0000ff" stroke-width="1.1"/>
<line x1="649.47" y1="627.13" x2="643.73" y2="619.94" stroke="#0000ff" stroke-width="1.1"/>
<line x1="652.72" y1="624.49" x2="646.85" y2="617.41" stroke="#0000ff" stroke-width="1.1"/>
<line x1="655.91" y1="621.8" x2="649.92" y2="614.82" stroke="#0000ff" stroke-width="1.1"/>
<line x1="659.06" y1="619.05" x2="644.78" y2="602.98" stroke="#00008b" stroke-width="1.2"/>
<line x1="662.16" y1="616.25" x2="655.93" y2="609.48" stroke="#00008b" stroke-width="1.1"/>
<line x1="665.21" y1="613.39" x2="658.87" y2="606.73" stroke="#00008b" stroke-width="1.1"/>
<line x1="668.22" y1="610.48" x2="661.75" y2="603.93" stroke="#00008b" stroke-width="1.1"/>
<line x1="671.16" y1="607.52" x2="664.59" y2="601.08" stroke="#00008b" stroke-width="1.1"/>
<line x1="674.06" y1="604.51" x2="667.38" y2="598.19" stroke="#00008b" stroke-width="1.1"/>
<line x1="676.91" y1="601.44" x2="670.11" y2="595.24" stroke="#00008b" stroke-width="1.1"/>
<line x1="679.7" y1="598.33" x2="672.79" y2="592.25" stroke="#00008b" stroke-width="1.1"/>
<line x1="682.43" y1="595.17" x2="675.43" y2="589.21" stroke="#00008b" stroke-width="1.1"/>
<line x1="685.11" y1="591.96" x2="678" y2="586.13" stroke="#00008b" stroke-width="1.1"/>
<line x1="687.74" y1="588.71" x2="670.88" y2="575.36" stroke="#800080" stroke-width="1.2"/>
<line x1="690.3" y1="585.41" x2="682.99" y2="579.83" stroke="#800080" stroke-width="1.1"/>
<line x1="692.81" y1="582.07" x2="685.41" y2="576.61" stroke="#800080" stroke-width="1.1"/>
<line x1="695.26" y1="578.68" x2="687.76" y2="573.35" stroke="#800080" stroke-width="1.1"/>
<line x1="697.65" y1="575.25" x2="690.06" y2="570.06" stroke="#800080" stroke-width="1.1"/>
<line x1="699.98" y1="571.78" x2="692.3" y2="566.72" stroke="#800080" stroke-width="1.1"/>
<line x1="702.25" y1="568.27" x2="694.48" y2="563.34" stroke="#800080" stroke-width="1.1"/>
<line x1="704.46" y1="564.72" x2="696.61" y2="559.93" stroke="#800080" stroke-width="1.1"/>
<line x1="706.61" y1="561.13" x2="698.67" y2="556.48" stroke="#800080" stroke-width="1.1"/>
<line x1="708.69" y1="557.51" x2="700.67" y2="553" stroke="#800080" stroke-width="1.1"/>
<line x1="710.71" y1="553.85" x2="691.79" y2="543.63" stroke="#ff0000" stroke-width="1.2"/>
<line x1="712.66" y1="550.16" x2="704.49" y2="545.92" stroke="#ff0000" stroke-width="1.1"/>
<line x1="714.55" y1="546.43" x2="706.31" y2="542.34" stroke="#ff0000" stroke-width="1.1"/>
<line x1="716.38" y1="542.67" x2="708.07" y2="538.72" stroke="#ff0000" stroke-width="1.1"/>
<line x1="718.14" y1="538.88" x2="709.76" y2="535.08" stroke="#ff0000" stroke-width="1.1"/>
<line x1="719.83" y1="535.05" x2="711.39" y2="531.4" stroke="#ff0000" stroke-width="1.1"/>
<line x1="721.46" y1="531.2" x2="712.95" y2="527.7" stroke="#ff0000" stroke-width="1.1"/>
<line x1="723.01" y1="527.32" x2="714.45" y2="523.97" stroke="#ff0000" stroke-width="1.1"/>
<line x1="724.5" y1="523.42" x2="715.88" y2="520.21" stroke="#ff0000" stroke-width="1.1"/>
<line x1="725.92" y1="519.49" x2="717.25" y2="516.43" stroke="#ff0000" stroke-width="1.1"/>
</g>
<g id="bounds">
<line x1="729.46" y1="516.26" x2="765.71" y2="528.3" stroke="#000" stroke-width="1.8"/>
<line x1="736.85" y1="391.31" x2="774.26" y2="383.62" stroke="#000" stroke-width="1.8"/>
<line x1="680.77" y1="279.41" x2="709.33" y2="254.04" stroke="#000" stroke-width="1.8"/>
<line x1="576.26" y1="210.54" x2="588.3" y2="174.29" stroke="#000" stroke-width="1.8"/>
<line x1="451.31" y1="203.15" x2="443.62" y2="165.74" stroke="#000" stroke-width="1.8"/>
<line x1="339.41" y1="259.23" x2="314.04" y2="230.67" stroke="#000" stroke-width="1.8"/>
<line x1="270.54" y1="363.74" x2="234.29" y2="351.7" stroke="#000" stroke-width="1.8"/>
<line x1="263.15" y1="488.69" x2="225.74" y2="496.38" stroke="#000" stroke-width="1.8"/>
<line x1="319.23" y1="600.59" x2="290.67" y2="625.96" stroke="#000" stroke-width="1.8"/>
<line x1="423.74" y1="669.46" x2="411.7" y2="705.71" stroke="#000" stroke-width="1.8"/>
<line x1="548.69" y1="676.85" x2="556.38" y2="714.26" stroke="#000" stroke-width="1.8"/>
<line x1="660.59" y1="620.77" x2="685.96" y2="649.33" stroke="#000" stroke-width="1.8"/>
<circle cx="500" cy="440" r="280" fill="none" stroke="#000" stroke-width="1.9"/>
</g>
<g id="signs">
<text transform="translate(759.55 455.34) scale(1.077 1)" x="-11.58" y="9.45" font-family="'DejaVu Sans',sans-serif" font-size="25.84" fill="#b22222" stroke="#b22222" stroke-width="0.35" stroke-linejoin="round" text-anchor="start">♈&#xFE0E;</text>
<text transform="translate(732.45 323.52) scale(0.727 1)" x="-11.6" y="9.45" font-family="'DejaVu Sans',sans-serif" font-size="25.87" fill="#228b22" stroke="#228b22" stroke-width="0.35" stroke-linejoin="round" text-anchor="start">♉&#xFE0E;</text>
<text transform="translate(643.06 222.9) scale(0.804 1)" x="-11.57" y="9.45" font-family="'DejaVu Sans',sans-serif" font-size="25.84" fill="#daa520" stroke="#daa520" stroke-width="0.35" stroke-linejoin="round" text-anchor="start">♊&#xFE0E;</text>
<text transform="translate(515.34 180.45) scale(1.134 1)" x="-13.07" y="10.36" font-family="'DejaVu Sans',sans-serif" font-size="29.17" fill="#0000cd" stroke="#0000cd" stroke-width="0.35" stroke-linejoin="round" text-anchor="start">♋&#xFE0E;</text>
<text transform="translate(383.52 207.55) scale(1.203 1)" x="-11.59" y="9.45" font-family="'DejaVu Sans',sans-serif" font-size="25.87" fill="#b22222" stroke="#b22222" stroke-width="0.35" stroke-linejoin="round" text-anchor="start">♌&#xFE0E;</text>
<text transform="translate(282.9 296.94) scale(1.208 1)" x="-9.3" y="5.71" font-family="'DejaVu Sans',sans-serif" font-size="20.75" fill="#228b22" stroke="#228b22" stroke-width="0.35" stroke-linejoin="round" text-anchor="start">♍&#xFE0E;</text>
<text transform="translate(240.45 424.66) scale(0.693 1)" x="-14.11" y="11.09" font-family="'DejaVu Sans',sans-serif" font-size="31.47" fill="#daa520" stroke="#daa520" stroke-width="0.35" stroke-linejoin="round" text-anchor="start">♎&#xFE0E;</text>
<text transform="translate(267.55 556.48) scale(1.280 1)" x="-10.26" y="7.26" font-family="'DejaVu Sans',sans-serif" font-size="22.88" fill="#0000cd" stroke="#0000cd" stroke-width="0.35" stroke-linejoin="round" text-anchor="start">♏&#xFE0E;</text>
<text transform="translate(356.94 657.1) scale(0.952 1)" x="-11.58" y="9.44" font-family="'DejaVu Sans',sans-serif" font-size="25.86" fill="#b22222" stroke="#b22222" stroke-width="0.35" stroke-linejoin="round" text-anchor="start">♐&#xFE0E;</text>
<text transform="translate(484.66 699.55) scale(0.983 1)" x="-11.59" y="9.45" font-family="'DejaVu Sans',sans-serif" font-size="25.87" fill="#228b22" stroke="#228b22" stroke-width="0.35" stroke-linejoin="round" text-anchor="start">♑&#xFE0E;</text>
<text transform="translate(616.48 672.45) scale(0.663 1)" x="-19.86" y="16.23" font-family="'DejaVu Sans',sans-serif" font-size="44.34" fill="#daa520" stroke="#daa520" stroke-width="0.35" stroke-linejoin="round" text-anchor="start">♒&#xFE0E;</text>
<text transform="translate(717.1 583.06) scale(0.955 1)" x="-11.59" y="9.45" font-family="'DejaVu Sans',sans-serif" font-size="25.87" fill="#0000cd" stroke="#0000cd" stroke-width="0.35" stroke-linejoin="round" text-anchor="start">♓&#xFE0E;</text>
</g>
<g id="cusps">
<line x1="411.99" y1="487.49" x2="253.58" y2="572.96" stroke="#1f7f1f" stroke-width="1.15"/>
<line x1="448.67" y1="525.82" x2="356.28" y2="680.3" stroke="#1f7f1f" stroke-width="1.15"/>
<line x1="555.44" y1="523.23" x2="655.22" y2="673.04" stroke="#1f7f1f" stroke-width="1.15"/>
<line x1="589.65" y1="484.31" x2="751.02" y2="564.06" stroke="#1f7f1f" stroke-width="1.15"/>
<line x1="588.01" y1="392.51" x2="746.42" y2="307.04" stroke="#1f7f1f" stroke-width="1.15"/>
<line x1="551.33" y1="354.18" x2="643.72" y2="199.7" stroke="#1f7f1f" stroke-width="1.15"/>
<line x1="444.56" y1="356.77" x2="344.78" y2="206.96" stroke="#1f7f1f" stroke-width="1.15"/>
<line x1="410.35" y1="395.69" x2="248.98" y2="315.94" stroke="#1f7f1f" stroke-width="1.15"/>
</g>
<g id="axes">
<line x1="400" y1="440" x2="210" y2="440" stroke="#ff0000" stroke-width="4.1"/>
<line x1="600" y1="440" x2="790" y2="440" stroke="#ff0000" stroke-width="4.1"/>
<line x1="497.5" y1="340.03" x2="492.75" y2="150.09" stroke="#0000ff" stroke-width="4.3"/>
<line x1="502.5" y1="539.97" x2="507.25" y2="729.91" stroke="#0000ff" stroke-width="4.3"/>
</g>
<g id="houselabels">
<text transform="translate(218.83 511.02) scale(0.9 1)" x="-3.97" y="2.35" font-family="'DejaVu Sans',sans-serif" font-size="7.4" fill="#1f7f1f" text-anchor="start">٠١</text>
<text transform="translate(200.41 455.7) scale(0.8 1)" x="-10.19" y="2.6" font-family="'DejaVu Sans',sans-serif" font-size="8.2" fill="#1f7f1f" text-anchor="start">١٨:٢٣</text>
<text transform="translate(290.46 640.48) scale(0.9 1)" x="-3.97" y="2.35" font-family="'DejaVu Sans',sans-serif" font-size="7.4" fill="#1f7f1f" text-anchor="start">٠٢</text>
<text transform="translate(243.8 596.08) scale(0.8 1)" x="-10.19" y="2.6" font-family="'DejaVu Sans',sans-serif" font-size="8.2" fill="#1f7f1f" text-anchor="start">١٦:٤٤</text>
<text transform="translate(426.29 720.48) scale(0.9 1)" x="-3.97" y="2.35" font-family="'DejaVu Sans',sans-serif" font-size="7.4" fill="#1f7f1f" text-anchor="start">٠٣</text>
<text transform="translate(359.7 705.17) scale(0.8 1)" x="-10.19" y="2.6" font-family="'DejaVu Sans',sans-serif" font-size="8.2" fill="#1f7f1f" text-anchor="start">١٧:٣٠</text>
<text transform="translate(587.45 716.5) scale(0.9 1)" x="-3.97" y="2.35" font-family="'DejaVu Sans',sans-serif" font-size="7.4" fill="#1f7f1f" text-anchor="start">٠٤</text>
<text transform="translate(523.19 739.1) scale(0.8 1)" x="-10.19" y="2.6" font-family="'DejaVu Sans',sans-serif" font-size="8.2" fill="#1f7f1f" text-anchor="start">١٩:٤٩</text>
<text transform="translate(717.81 631.46) scale(0.9 1)" x="-3.97" y="2.35" font-family="'DejaVu Sans',sans-serif" font-size="7.4" fill="#1f7f1f" text-anchor="start">٠٥</text>
<text transform="translate(679.15 680.64) scale(0.8 1)" x="-10.19" y="2.6" font-family="'DejaVu Sans',sans-serif" font-size="8.2" fill="#1f7f1f" text-anchor="start">٢٢:٠٣</text>
<text transform="translate(782.4 505.98) scale(0.9 1)" x="-3.97" y="2.35" font-family="'DejaVu Sans',sans-serif" font-size="7.4" fill="#1f7f1f" text-anchor="start">٠٦</text>
<text transform="translate(775.53 558.66) scale(0.8 1)" x="-10.19" y="2.6" font-family="'DejaVu Sans',sans-serif" font-size="8.2" fill="#1f7f1f" text-anchor="start">٢٢:٠٥</text>
<text transform="translate(781.17 368.98) scale(0.9 1)" x="-3.97" y="2.35" font-family="'DejaVu Sans',sans-serif" font-size="7.4" fill="#1f7f1f" text-anchor="start">٠٧</text>
<text transform="translate(799.59 424.3) scale(0.8 1)" x="-10.19" y="2.6" font-family="'DejaVu Sans',sans-serif" font-size="8.2" fill="#1f7f1f" text-anchor="start">١٨:٢٣</text>
<text transform="translate(709.54 239.52) scale(0.9 1)" x="-3.97" y="2.35" font-family="'DejaVu Sans',sans-serif" font-size="7.4" fill="#1f7f1f" text-anchor="start">٠٨</text>
<text transform="translate(756.2 283.92) scale(0.8 1)" x="-10.19" y="2.6" font-family="'DejaVu Sans',sans-serif" font-size="8.2" fill="#1f7f1f" text-anchor="start">١٦:٤٤</text>
<text transform="translate(573.71 159.52) scale(0.9 1)" x="-3.97" y="2.35" font-family="'DejaVu Sans',sans-serif" font-size="7.4" fill="#1f7f1f" text-anchor="start">٠٩</text>
<text transform="translate(640.3 174.83) scale(0.8 1)" x="-10.19" y="2.6" font-family="'DejaVu Sans',sans-serif" font-size="8.2" fill="#1f7f1f" text-anchor="start">١٧:٣٠</text>
<text transform="translate(412.55 163.5) scale(0.9 1)" x="-3.97" y="2.35" font-family="'DejaVu Sans',sans-serif" font-size="7.4" fill="#1f7f1f" text-anchor="start">١٠</text>
<text transform="translate(476.81 140.9) scale(0.8 1)" x="-10.19" y="2.6" font-family="'DejaVu Sans',sans-serif" font-size="8.2" fill="#1f7f1f" text-anchor="start">١٩:٤٩</text>
<text transform="translate(282.19 248.54) scale(0.9 1)" x="-3.97" y="2.35" font-family="'DejaVu Sans',sans-serif" font-size="7.4" fill="#1f7f1f" text-anchor="start">١١</text>
<text transform="translate(320.85 199.36) scale(0.8 1)" x="-10.19" y="2.6" font-family="'DejaVu Sans',sans-serif" font-size="8.2" fill="#1f7f1f" text-anchor="start">٢٢:٠٣</text>
<text transform="translate(217.6 374.02) scale(0.9 1)" x="-3.97" y="2.35" font-family="'DejaVu Sans',sans-serif" font-size="7.4" fill="#1f7f1f" text-anchor="start">١٢</text>
<text transform="translate(224.47 321.34) scale(0.8 1)" x="-10.19" y="2.6" font-family="'DejaVu Sans',sans-serif" font-size="8.2" fill="#1f7f1f" text-anchor="start">٢٢:٠٥</text>
</g>
<circle cx="500" cy="440" r="100" fill="none" stroke="#000" stroke-width="2"/>
<text x="499" y="449" font-family="'Liberation Sans','DejaVu Sans',sans-serif" font-size="25.2" fill="#cbcbcb" text-anchor="middle" direction="rtl">خارطة نور الكون</text>
<g id="aspects" stroke-width="1.05">
<line x1="585.97" y1="489.1" x2="585.61" y2="390.28" stroke="#008000"/>
<line x1="585.97" y1="489.1" x2="502.51" y2="341.03" stroke="#800080"/>
<line x1="585.97" y1="489.1" x2="442.46" y2="520.56" stroke="#ff0000"/>
<line x1="585.97" y1="489.1" x2="420.04" y2="381.62" stroke="#00008b"/>
<line x1="598.38" y1="428.94" x2="502.51" y2="341.03" stroke="#ff0000"/>
<line x1="593.65" y1="472.1" x2="574.7" y2="375.03" stroke="#008000"/>
<line x1="585.61" y1="390.28" x2="502.51" y2="341.03" stroke="#008000"/>
<line x1="595.83" y1="464.84" x2="597.13" y2="459.14" stroke="#808000"/>
<line x1="595.83" y1="464.84" x2="595.31" y2="466.76" stroke="#808000"/>
<line x1="595.83" y1="464.84" x2="528.94" y2="534.67" stroke="#008000"/>
<line x1="502.51" y1="341.03" x2="420.04" y2="381.62" stroke="#008000"/>
<line x1="502.51" y1="341.03" x2="401.55" y2="429.59" stroke="#ff0000"/>
<line x1="597.13" y1="459.14" x2="595.31" y2="466.76" stroke="#808000"/>
<line x1="597.13" y1="459.14" x2="528.94" y2="534.67" stroke="#008000"/>
<line x1="597.13" y1="459.14" x2="442.46" y2="520.56" stroke="#800080"/>
<line x1="597.13" y1="459.14" x2="401.55" y2="429.59" stroke="#00008b"/>
<line x1="595.31" y1="466.76" x2="528.94" y2="534.67" stroke="#008000"/>
<line x1="401" y1="440" x2="598.38" y2="428.94" stroke="#00008b"/>
<line x1="401" y1="440" x2="502.51" y2="341.03" stroke="#ff0000"/>
<line x1="497.52" y1="341.03" x2="585.97" y2="489.1" stroke="#800080"/>
<line x1="497.52" y1="341.03" x2="598.38" y2="428.94" stroke="#ff0000"/>
<line x1="497.52" y1="341.03" x2="585.61" y2="390.28" stroke="#008000"/>
<line x1="497.52" y1="341.03" x2="502.51" y2="341.03" stroke="#808000"/>
</g>
<g id="pointers">
<line x1="707.97" y1="558.78" x2="689.56" y2="548.27" stroke="#0000ff" stroke-width="2.3"/>
<line x1="738" y1="413.23" x2="716.63" y2="415.64" stroke="#ffa500" stroke-width="2.3"/>
<line x1="726.56" y1="517.64" x2="665.55" y2="496.73" stroke="#808000" stroke-width="2.3"/>
<line x1="707.1" y1="319.71" x2="688.77" y2="330.36" stroke="#008000" stroke-width="2.3"/>
<line x1="731.84" y1="500.1" x2="669.4" y2="483.92" stroke="#ff0000" stroke-width="2.3"/>
<line x1="506.06" y1="200.58" x2="504.99" y2="243.06" stroke="#800080" stroke-width="2.3"/>
<line x1="734.98" y1="486.31" x2="692.3" y2="477.9" stroke="#00008b" stroke-width="2.3"/>
<line x1="680.71" y1="282.82" x2="665.99" y2="295.62" stroke="#008b8b" stroke-width="2.3"/>
<line x1="730.58" y1="504.74" x2="710.27" y2="499.04" stroke="#4169e1" stroke-width="2.3"/>
<line x1="570.02" y1="669.03" x2="563.74" y2="648.47" stroke="#8b0000" stroke-width="2.3"/>
<line x1="682.79" y1="594.75" x2="666.61" y2="581.05" stroke="#000000" stroke-width="2.3"/>
<line x1="360.81" y1="634.9" x2="373.13" y2="617.65" stroke="#000000" stroke-width="2.3"/>
<line x1="306.57" y1="298.77" x2="323.85" y2="311.39" stroke="#00008b" stroke-width="2.3"/>
<line x1="261.83" y1="414.83" x2="282.81" y2="417.04" stroke="#0000ff" stroke-width="2.3"/>
</g>
<g id="planets">
<text transform="translate(679.83 542.71) scale(1.508 1)" x="-15.33" y="9.55" font-family="'DejaVu Sans',sans-serif" font-size="26.17" font-weight="bold" fill="#0000ff" stroke="#0000ff" stroke-width="0.3" stroke-linejoin="round" text-anchor="start">☽&#xFE0E;</text>
<text transform="translate(693.83 536.51) scale(0.87 1)" x="-8.11" y="4.79" font-family="'DejaVu Sans',sans-serif" font-size="15.1" fill="#0000ff" text-anchor="start">١٨</text>
<text transform="translate(705.9 416.84) scale(1.021 1)" x="-11.78" y="9.6" font-family="'DejaVu Sans',sans-serif" font-size="26.28" font-weight="bold" fill="#ffa500" stroke="#ffa500" stroke-width="0.9" stroke-linejoin="round" text-anchor="start">☉&#xFE0E;</text>
<text transform="translate(719.9 410.64) scale(0.87 1)" x="-8.11" y="4.79" font-family="'DejaVu Sans',sans-serif" font-size="15.1" fill="#ffa500" text-anchor="start">٢٤</text>
<text transform="translate(654.39 492.91) scale(0.941 1)" x="-6.92" y="7.11" font-family="'DejaVu Sans',sans-serif" font-size="22.56" fill="#808000" text-anchor="start">☿&#xFE0E;</text>
<text transform="translate(668.39 486.71) scale(0.87 1)" x="-8.11" y="4.79" font-family="'DejaVu Sans',sans-serif" font-size="15.1" fill="#808000" text-anchor="start">٢٩</text>
<text transform="translate(679.34 335.83) scale(0.990 1)" x="-7.91" y="6.54" font-family="'DejaVu Sans',sans-serif" font-size="21.59" font-weight="bold" fill="#008000" stroke="#008000" stroke-width="0.45" stroke-linejoin="round" text-anchor="start">♀&#xFE0E;</text>
<text transform="translate(693.34 329.63) scale(0.87 1)" x="-8.11" y="4.79" font-family="'DejaVu Sans',sans-serif" font-size="15.1" fill="#008000" text-anchor="start">١٨</text>
<text transform="translate(656.91 480.68) scale(1.007 1)" x="-12.14" y="9.42" font-family="'DejaVu Sans',sans-serif" font-size="26.69" font-weight="bold" fill="#ff0000" stroke="#ff0000" stroke-width="0.45" stroke-linejoin="round" text-anchor="start">♂&#xFE0E;</text>
<text transform="translate(670.91 474.48) scale(0.87 1)" x="-8.11" y="4.79" font-family="'DejaVu Sans',sans-serif" font-size="15.1" fill="#ff0000" text-anchor="start">٠٣</text>
<text transform="translate(504.7 254.46) scale(0.860 1)" x="-11.52" y="9.4" font-family="'DejaVu Sans',sans-serif" font-size="25.74" fill="#800080" text-anchor="start">♃&#xFE0E;</text>
<text transform="translate(518.7 248.26) scale(0.87 1)" x="-8.11" y="4.79" font-family="'DejaVu Sans',sans-serif" font-size="15.1" fill="#800080" text-anchor="start">١٦</text>
<text transform="translate(681.8 475.83) scale(1.144 1)" x="-11.28" y="9.2" font-family="'DejaVu Sans',sans-serif" font-size="25.19" fill="#00008b" text-anchor="start">♄&#xFE0E;</text>
<text transform="translate(695.8 469.63) scale(0.87 1)" x="-8.11" y="4.79" font-family="'DejaVu Sans',sans-serif" font-size="15.1" fill="#00008b" text-anchor="start">٠٧</text>
<text transform="translate(656.64 303.76) scale(0.755 1)" x="-11.34" y="9.25" font-family="'DejaVu Sans',sans-serif" font-size="25.33" fill="#008b8b" text-anchor="start">♅&#xFE0E;</text>
<text transform="translate(670.64 297.56) scale(0.87 1)" x="-8.11" y="4.79" font-family="'DejaVu Sans',sans-serif" font-size="15.1" fill="#008b8b" text-anchor="start">٢٩</text>
<text transform="translate(699 495.88) scale(0.823 1)" x="-11.53" y="9.4" font-family="'DejaVu Sans',sans-serif" font-size="25.74" fill="#4169e1" text-anchor="start">♆&#xFE0E;</text>
<text transform="translate(713 489.68) scale(0.87 1)" x="-8.11" y="4.79" font-family="'DejaVu Sans',sans-serif" font-size="15.1" fill="#4169e1" text-anchor="start">٠٢</text>
<g transform="translate(560.32 637.29)" fill="none" stroke="#8b0000" stroke-width="1.35"><circle cx="0" cy="-5.3" r="3.4"/><path d="M-6.2 -4.8A6.2 6.2 0 0 0 6.2 -4.8M0 1.4V9.3M-3.7 6.9H3.7"/></g>
<text transform="translate(574.32 631.09) scale(0.87 1)" x="-8.11" y="4.79" font-family="'DejaVu Sans',sans-serif" font-size="15.1" fill="#8b0000" text-anchor="start">٠٥</text>
<text transform="translate(658.22 573.94) scale(0.897 1)" x="-10.15" y="8.3" font-family="'DejaVu Sans',sans-serif" font-size="22.83" fill="#000000" text-anchor="start">☊&#xFE0E;</text>
<text transform="translate(672.22 567.74) scale(0.87 1)" x="-8.11" y="4.79" font-family="'DejaVu Sans',sans-serif" font-size="15.1" fill="#000000" text-anchor="start">٠٨</text>
<text transform="translate(379.7 608.45) scale(1.132 1)" x="-9.26" y="9.48" font-family="'DejaVu Sans',sans-serif" font-size="26.01" fill="#000000" text-anchor="start">ℒ&#xFE0E;</text>
<text transform="translate(393.7 602.25) scale(0.87 1)" x="-8.11" y="4.79" font-family="'DejaVu Sans',sans-serif" font-size="15.1" fill="#000000" text-anchor="start">١٢</text>
<g transform="translate(333.14 318.17)" fill="none" stroke="#00008b" stroke-width="1.4"><circle cx="0" cy="0" r="7.2"/><path d="M-5.1 -5.1L5.1 5.1M5.1 -5.1L-5.1 5.1"/></g>
<text transform="translate(347.14 311.97) scale(0.87 1)" x="-8.11" y="4.79" font-family="'DejaVu Sans',sans-serif" font-size="15.1" fill="#00008b" text-anchor="start">١٢</text>
<circle cx="293.75" cy="418.2" r="4.6" fill="#0000ff"/>
<text transform="translate(293.75 418.2) scale(0.939 1)" x="-11.26" y="9.8" font-family="'DejaVu Sans',sans-serif" font-size="26.89" fill="#0000ff" text-anchor="start">✺&#xFE0E;</text>
<text transform="translate(307.75 412) scale(0.87 1)" x="-8.11" y="4.79" font-family="'DejaVu Sans',sans-serif" font-size="15.1" fill="#0000ff" text-anchor="start">١٢</text>
<text transform="translate(671.02 575.74) scale(0.720 1)" x="-5.53" y="4.5" font-family="'DejaVu Sans',sans-serif" font-size="12.35" fill="#333333" text-anchor="start">℞</text>
<text transform="translate(293 441.4) scale(0.482 1)" x="-17.89" y="7.39" font-family="'Liberation Sans',sans-serif" font-size="21.78" fill="#ff0000" text-anchor="start">Asc</text>
<text transform="translate(307 433.6) scale(0.87 1)" x="-8.11" y="4.79" font-family="'DejaVu Sans',sans-serif" font-size="15.1" fill="#ff0000" text-anchor="start">١٨</text>
<text transform="translate(494.86 234.56) scale(0.558 1)" x="-16.49" y="7.1" font-family="'Liberation Sans',sans-serif" font-size="20.62" fill="#0000ff" text-anchor="start">MC</text>
<text transform="translate(508.46 227.06) scale(0.87 1)" x="-8.11" y="4.79" font-family="'DejaVu Sans',sans-serif" font-size="15.1" fill="#0000ff" text-anchor="start">١٩</text>
</g>
<g font-family="'Liberation Sans','DejaVu Sans',sans-serif" font-size="10.9" text-anchor="middle" direction="rtl">
<text x="200" y="444.5" fill="#ff0000">طالع</text>
<text x="801" y="443.7" fill="#ff0000">غارب</text>
<text x="501.5" y="144" fill="#0000ff">وسط</text>
<text x="498.5" y="744" fill="#0000ff">وتد</text>
</g>
<text x="500.5" y="51" font-family="'Liberation Sans','DejaVu Sans',sans-serif" font-size="23.7" fill="#222222" text-anchor="middle" direction="rtl" textLength="231" lengthAdjust="spacingAndGlyphs">هيئة مولد لعجب العجاب</text>
<text x="500.2" y="75" font-family="'Liberation Sans','DejaVu Sans',sans-serif" font-size="15.5" fill="#222222" text-anchor="middle" direction="rtl" textLength="292.4" lengthAdjust="spacingAndGlyphs">الثلاثاء، ١٤ أبريل ٢٠٢٦ م، ١٩:٢٦:٠٠ غرينتش ٠١:٠٠</text>
<text x="586" y="93.7" font-family="'Liberation Sans','DejaVu Sans',sans-serif" font-size="16.2" fill="#222222" text-anchor="start" textLength="117.3" lengthAdjust="spacingAndGlyphs">Marrakech, MA</text>
<text x="584.5" y="93.7" font-family="'Liberation Sans','DejaVu Sans',sans-serif" font-size="15.5" fill="#222222" text-anchor="start" direction="rtl" textLength="287.5" lengthAdjust="spacingAndGlyphs">, العرض: ٣١:٣٧:٤٨ شمال، الطول: ٠٨:٠٠:٠٠ غرب</text>
<text x="500.2" y="111.5" font-family="'Liberation Sans','DejaVu Sans',sans-serif" font-size="15.5" fill="#222222" text-anchor="middle" direction="rtl" textLength="151.5" lengthAdjust="spacingAndGlyphs">نظام البيوت: بلاسيدوس</text>
<text x="100.1" y="93" font-family="'Liberation Sans','DejaVu Sans',sans-serif" font-size="15.4" fill="#008000" text-anchor="middle" direction="rtl" textLength="114.6" lengthAdjust="spacingAndGlyphs">قمر تسديس زهرة</text>
<text x="100.1" y="111" font-family="'Liberation Sans','DejaVu Sans',sans-serif" font-size="15.4" fill="#800080" text-anchor="middle" direction="rtl" textLength="115.4" lengthAdjust="spacingAndGlyphs">قمر تثليث مشتري</text>
<text x="100.1" y="129" font-family="'Liberation Sans','DejaVu Sans',sans-serif" font-size="15.4" fill="#ff0000" text-anchor="middle" direction="rtl" textLength="126.8" lengthAdjust="spacingAndGlyphs">قمر تربيع قمر أسود</text>
<text x="100.1" y="147" font-family="'Liberation Sans','DejaVu Sans',sans-serif" font-size="15.4" fill="#00008b" text-anchor="middle" direction="rtl" textLength="145" lengthAdjust="spacingAndGlyphs">قمر مقابلة سهم سعادة</text>
<text x="100.1" y="165" font-family="'Liberation Sans','DejaVu Sans',sans-serif" font-size="15.4" fill="#ff0000" text-anchor="middle" direction="rtl" textLength="126.4" lengthAdjust="spacingAndGlyphs">شمس تربيع مشتري</text>
<text x="100.1" y="183" font-family="'Liberation Sans','DejaVu Sans',sans-serif" font-size="15.4" fill="#008000" text-anchor="middle" direction="rtl" textLength="156" lengthAdjust="spacingAndGlyphs">عطارد تسديس أورانوس</text>
<text x="100.1" y="201" font-family="'Liberation Sans','DejaVu Sans',sans-serif" font-size="15.4" fill="#008000" text-anchor="middle" direction="rtl" textLength="137.2" lengthAdjust="spacingAndGlyphs">زهرة تسديس مشتري</text>
<text x="100.1" y="219" font-family="'Liberation Sans','DejaVu Sans',sans-serif" font-size="15.4" fill="#808000" text-anchor="middle" direction="rtl" textLength="103.4" lengthAdjust="spacingAndGlyphs">مريخ قران زحل</text>
<text x="100.1" y="237" font-family="'Liberation Sans','DejaVu Sans',sans-serif" font-size="15.4" fill="#808000" text-anchor="middle" direction="rtl" textLength="110" lengthAdjust="spacingAndGlyphs">مريخ قران نبتون</text>
<text x="100.1" y="255" font-family="'Liberation Sans','DejaVu Sans',sans-serif" font-size="15.4" fill="#008000" text-anchor="middle" direction="rtl" textLength="126" lengthAdjust="spacingAndGlyphs">مريخ تسديس بلوتو</text>
<text x="100.1" y="273" font-family="'Liberation Sans','DejaVu Sans',sans-serif" font-size="15.4" fill="#008000" text-anchor="middle" direction="rtl" textLength="179.2" lengthAdjust="spacingAndGlyphs">مشتري تسديس سهم سعادة</text>
<text x="100.1" y="291" font-family="'Liberation Sans','DejaVu Sans',sans-serif" font-size="15.4" fill="#ff0000" text-anchor="middle" direction="rtl" textLength="178" lengthAdjust="spacingAndGlyphs">مشتري تربيع استقبال سابق</text>
<text x="100.1" y="309" font-family="'Liberation Sans','DejaVu Sans',sans-serif" font-size="15.4" fill="#808000" text-anchor="middle" direction="rtl" textLength="105.6" lengthAdjust="spacingAndGlyphs">زحل قران نبتون</text>
<text x="100.1" y="327" font-family="'Liberation Sans','DejaVu Sans',sans-serif" font-size="15.4" fill="#008000" text-anchor="middle" direction="rtl" textLength="121.2" lengthAdjust="spacingAndGlyphs">زحل تسديس بلوتو</text>
<text x="100.1" y="345" font-family="'Liberation Sans','DejaVu Sans',sans-serif" font-size="15.4" fill="#800080" text-anchor="middle" direction="rtl" textLength="138.8" lengthAdjust="spacingAndGlyphs">زحل تثليث قمر أسود</text>
<text x="100.1" y="363" font-family="'Liberation Sans','DejaVu Sans',sans-serif" font-size="15.4" fill="#00008b" text-anchor="middle" direction="rtl" textLength="167" lengthAdjust="spacingAndGlyphs">زحل مقابلة استقبال سابق</text>
<text x="100.1" y="381" font-family="'Liberation Sans','DejaVu Sans',sans-serif" font-size="15.4" fill="#008000" text-anchor="middle" direction="rtl" textLength="128.4" lengthAdjust="spacingAndGlyphs">نبتون تسديس بلوتو</text>
<text x="100.1" y="399" font-family="'Liberation Sans','DejaVu Sans',sans-serif" font-size="15.4" fill="#00008b" text-anchor="middle" direction="rtl" textLength="115.4" lengthAdjust="spacingAndGlyphs">طالع مقابلة شمس</text>
<text x="100.1" y="417" font-family="'Liberation Sans','DejaVu Sans',sans-serif" font-size="15.4" fill="#ff0000" text-anchor="middle" direction="rtl" textLength="117.2" lengthAdjust="spacingAndGlyphs">طالع تربيع مشتري</text>
<text x="100.1" y="435" font-family="'Liberation Sans','DejaVu Sans',sans-serif" font-size="15.4" fill="#800080" text-anchor="middle" direction="rtl" textLength="144.6" lengthAdjust="spacingAndGlyphs">وسط سماء تثليث قمر</text>
<text x="100.1" y="453" font-family="'Liberation Sans','DejaVu Sans',sans-serif" font-size="15.4" fill="#ff0000" text-anchor="middle" direction="rtl" textLength="153.4" lengthAdjust="spacingAndGlyphs">وسط سماء تربيع شمس</text>
<text x="100.1" y="471" font-family="'Liberation Sans','DejaVu Sans',sans-serif" font-size="15.4" fill="#008000" text-anchor="middle" direction="rtl" textLength="164.4" lengthAdjust="spacingAndGlyphs">وسط سماء تسديس زهرة</text>
<text x="100.1" y="489" font-family="'Liberation Sans','DejaVu Sans',sans-serif" font-size="15.4" fill="#808000" text-anchor="middle" direction="rtl" textLength="158" lengthAdjust="spacingAndGlyphs">وسط سماء قران مشتري</text>
<text x="900.2" y="93" font-family="'Liberation Sans','DejaVu Sans',sans-serif" font-size="15.4" fill="#0000ff" text-anchor="middle" direction="rtl" textLength="93.4" lengthAdjust="spacingAndGlyphs">قمر: ١٨حوت٣٩</text>
<text x="900.2" y="111" font-family="'Liberation Sans','DejaVu Sans',sans-serif" font-size="15.4" fill="#ffa500" text-anchor="middle" direction="rtl" textLength="105" lengthAdjust="spacingAndGlyphs">شمس: ٢٤حمل٤٨</text>
<text x="900.2" y="129" font-family="'Liberation Sans','DejaVu Sans',sans-serif" font-size="15.4" fill="#808000" text-anchor="middle" direction="rtl" textLength="110.6" lengthAdjust="spacingAndGlyphs">عطارد: ٢٩حوت٢٨</text>
<text x="900.2" y="147" font-family="'Liberation Sans','DejaVu Sans',sans-serif" font-size="15.4" fill="#008000" text-anchor="middle" direction="rtl" textLength="88.8" lengthAdjust="spacingAndGlyphs">زهرة: ١٨ثور٣٢</text>
<text x="900.2" y="165" font-family="'Liberation Sans','DejaVu Sans',sans-serif" font-size="15.4" fill="#ff0000" text-anchor="middle" direction="rtl" textLength="98" lengthAdjust="spacingAndGlyphs">مريخ: ٠٣حمل٥١</text>
<text x="900.2" y="183" font-family="'Liberation Sans','DejaVu Sans',sans-serif" font-size="15.4" fill="#800080" text-anchor="middle" direction="rtl" textLength="128" lengthAdjust="spacingAndGlyphs">مشتري: ١٦سرطان٥٦</text>
<text x="900.2" y="201" font-family="'Liberation Sans','DejaVu Sans',sans-serif" font-size="15.4" fill="#00008b" text-anchor="middle" direction="rtl" textLength="93.4" lengthAdjust="spacingAndGlyphs">زحل: ٠٧حمل١٤</text>
<text x="900.2" y="219" font-family="'Liberation Sans','DejaVu Sans',sans-serif" font-size="15.4" fill="#008b8b" text-anchor="middle" direction="rtl" textLength="114.4" lengthAdjust="spacingAndGlyphs">أورانوس: ٢٩ثور٢٤</text>
<text x="900.2" y="237" font-family="'Liberation Sans','DejaVu Sans',sans-serif" font-size="15.4" fill="#4169e1" text-anchor="middle" direction="rtl" textLength="102" lengthAdjust="spacingAndGlyphs">نبتون: ٠٢حمل٤٢</text>
<text x="900.2" y="255" font-family="'Liberation Sans','DejaVu Sans',sans-serif" font-size="15.4" fill="#8b0000" text-anchor="middle" direction="rtl" textLength="86.4" lengthAdjust="spacingAndGlyphs">بلوتو: ٠٥دلو٢٣</text>
<text x="900.2" y="273" font-family="'Liberation Sans','DejaVu Sans',sans-serif" font-size="15.4" fill="#111111" text-anchor="middle" direction="rtl" textLength="110.6" lengthAdjust="spacingAndGlyphs">رأس ر: ٠٨حوت٠٨</text>
<text x="900.2" y="291" font-family="'Liberation Sans','DejaVu Sans',sans-serif" font-size="15.4" fill="#111111" text-anchor="middle" direction="rtl" textLength="128.4" lengthAdjust="spacingAndGlyphs">قمر أسود: ١٢قوس٥١</text>
<text x="900.2" y="309" font-family="'Liberation Sans','DejaVu Sans',sans-serif" font-size="15.4" fill="#00008b" text-anchor="middle" direction="rtl" textLength="142.4" lengthAdjust="spacingAndGlyphs">سهم سعادة: ١٢سنبلة١٥</text>
<text x="900.2" y="327" font-family="'Liberation Sans','DejaVu Sans',sans-serif" font-size="15.4" fill="#0000ff" text-anchor="middle" direction="rtl" textLength="159.4" lengthAdjust="spacingAndGlyphs">استقبال سابق: ١٢ميزان٢١</text>
<text x="900.2" y="345" font-family="'Liberation Sans','DejaVu Sans',sans-serif" font-size="15.4" fill="#ff0000" text-anchor="middle" direction="rtl" textLength="102.4" lengthAdjust="spacingAndGlyphs">طالع: ١٨ميزان٢٣</text>
<text x="900.2" y="363" font-family="'Liberation Sans','DejaVu Sans',sans-serif" font-size="15.4" fill="#0000ff" text-anchor="middle" direction="rtl" textLength="154.8" lengthAdjust="spacingAndGlyphs">وسط سماء: ١٩سرطان٤٩</text>
<text x="899.8" y="426.3" font-family="'Liberation Sans','DejaVu Sans',sans-serif" font-size="15.4" fill="#008000" text-anchor="middle" direction="rtl" textLength="128" lengthAdjust="spacingAndGlyphs">مستولي الهيئة: زهرة</text>
<text x="899.8" y="444.3" font-family="'Liberation Sans','DejaVu Sans',sans-serif" font-size="15.4" fill="#ffa500" text-anchor="middle" direction="rtl" textLength="136.8" lengthAdjust="spacingAndGlyphs">الفردار: شمس - شمس</text>
<text x="899.8" y="462.3" font-family="'Liberation Sans','DejaVu Sans',sans-serif" font-size="15.4" fill="#0000ff" text-anchor="middle" direction="rtl" textLength="121" lengthAdjust="spacingAndGlyphs">صاحب الساعة: قمر</text>
<text x="899.8" y="480.3" font-family="'Liberation Sans','DejaVu Sans',sans-serif" font-size="15.4" fill="#0000ff" text-anchor="middle" direction="rtl" textLength="111.4" lengthAdjust="spacingAndGlyphs">صاحب الدور: قمر</text>
<text x="900.3" y="532.6" font-family="'Liberation Sans','DejaVu Sans',sans-serif" font-size="15.4" fill="#1a6e1a" text-anchor="middle" direction="rtl" textLength="130" lengthAdjust="spacingAndGlyphs">بيت أول: ١٨ميزان٢٣</text>
<text x="900.3" y="550.68" font-family="'Liberation Sans','DejaVu Sans',sans-serif" font-size="15.4" fill="#1a6e1a" text-anchor="middle" direction="rtl" textLength="134" lengthAdjust="spacingAndGlyphs">بيت ثاني: ١٦عقرب٤٤</text>
<text x="900.3" y="568.76" font-family="'Liberation Sans','DejaVu Sans',sans-serif" font-size="15.4" fill="#1a6e1a" text-anchor="middle" direction="rtl" textLength="131" lengthAdjust="spacingAndGlyphs">بيت ثالث: ١٧قوس٣٠</text>
<text x="900.3" y="586.84" font-family="'Liberation Sans','DejaVu Sans',sans-serif" font-size="15.4" fill="#1a6e1a" text-anchor="middle" direction="rtl" textLength="125" lengthAdjust="spacingAndGlyphs">بيت رابع: ١٩جدي٤٩</text>
<text x="900.3" y="604.92" font-family="'Liberation Sans','DejaVu Sans',sans-serif" font-size="15.4" fill="#1a6e1a" text-anchor="middle" direction="rtl" textLength="132" lengthAdjust="spacingAndGlyphs">بيت خامس: ٢٢دلو٠٣</text>
<text x="900.3" y="623" font-family="'Liberation Sans','DejaVu Sans',sans-serif" font-size="15.4" fill="#1a6e1a" text-anchor="middle" direction="rtl" textLength="142.6" lengthAdjust="spacingAndGlyphs">بيت سادس: ٢٢حوت٠٥</text>
<text x="900.3" y="641.08" font-family="'Liberation Sans','DejaVu Sans',sans-serif" font-size="15.4" fill="#1a6e1a" text-anchor="middle" direction="rtl" textLength="129" lengthAdjust="spacingAndGlyphs">بيت سابع: ١٨حمل٢٣</text>
<text x="900.3" y="659.16" font-family="'Liberation Sans','DejaVu Sans',sans-serif" font-size="15.4" fill="#1a6e1a" text-anchor="middle" direction="rtl" textLength="120" lengthAdjust="spacingAndGlyphs">بيت ثامن: ١٦ثور٤٤</text>
<text x="900.3" y="677.24" font-family="'Liberation Sans','DejaVu Sans',sans-serif" font-size="15.4" fill="#1a6e1a" text-anchor="middle" direction="rtl" textLength="137" lengthAdjust="spacingAndGlyphs">بيت تاسع: ١٧جوزاء٣٠</text>
<text x="900.3" y="695.32" font-family="'Liberation Sans','DejaVu Sans',sans-serif" font-size="15.4" fill="#1a6e1a" text-anchor="middle" direction="rtl" textLength="148" lengthAdjust="spacingAndGlyphs">بيت عاشر: ١٩سرطان٤٩</text>
<text x="900.3" y="713.4" font-family="'Liberation Sans','DejaVu Sans',sans-serif" font-size="15.4" fill="#1a6e1a" text-anchor="middle" direction="rtl" textLength="164" lengthAdjust="spacingAndGlyphs">بيت حادي عشر: ٢٢أسد٠٣</text>
<text x="900.3" y="731.48" font-family="'Liberation Sans','DejaVu Sans',sans-serif" font-size="15.4" fill="#1a6e1a" text-anchor="middle" direction="rtl" textLength="165.4" lengthAdjust="spacingAndGlyphs">بيت ثاني عشر: ٢٢سنبلة٠٥</text>
</svg>
</body>
</html>
